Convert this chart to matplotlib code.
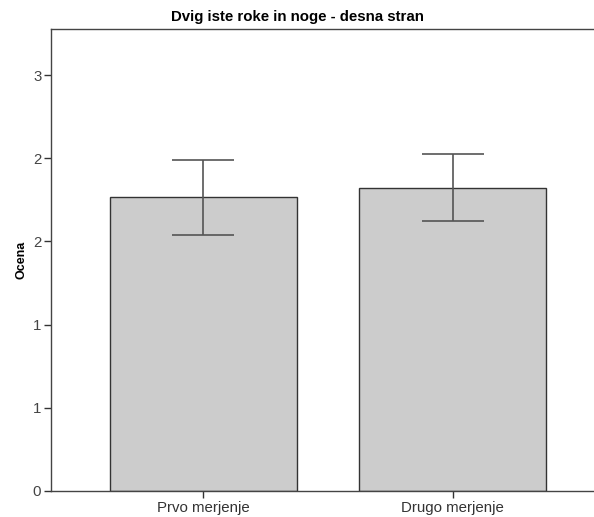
import matplotlib.pyplot as plt

plt.rcParams['font.family'] = ['Liberation Sans', 'DejaVu Sans']

categories = ['Prvo merjenje', 'Drugo merjenje']
means = [1.765, 1.823]
ci_low = [1.540, 1.623]
ci_high = [1.989, 2.025]
y_ticks = [0, 0.5, 1.0, 1.5, 2.0, 2.5]
y_tick_labels = ['0', '1', '1', '2', '2', '3']

fig = plt.figure(figsize=(5.94, 5.17), dpi=100)
ax = fig.add_axes([0.0859, 0.0503, 0.9141, 0.893])

x = list(range(len(categories)))
err = [[m - lo for m, lo in zip(means, ci_low)],
       [hi - m for m, hi in zip(means, ci_high)]]

ax.bar(x, means, width=0.75, color='#cccccc', edgecolor='#333333', linewidth=1.0, zorder=2)
ax.errorbar(x, means, yerr=err, fmt='none', ecolor='#555555', elinewidth=1.2,
            capsize=22.3, capthick=1.2, zorder=3)

ax.set_xlim(-0.612, 1.568)
ax.set_ylim(0, 2.775)
ax.set_xticks(x)
ax.set_xticklabels(categories, fontsize=10.8, color='#333333')
ax.set_yticks(y_ticks)
ax.set_yticklabels(y_tick_labels, fontsize=10.8, color='#444444')
ax.tick_params(axis='both', length=5, width=1, color='#333333', pad=2)

ax.spines['right'].set_visible(False)
for s in ['left', 'top', 'bottom']:
    ax.spines[s].set_color('#444444')
    ax.spines[s].set_linewidth(1.0)

ax.set_ylabel('Ocena', fontsize=9, fontweight='bold', labelpad=4)
# title is centred on the whole figure, not on the axes
fig.text(0.5, 0.967, 'Dvig iste roke in noge - desna stran', fontsize=10.8,
         fontweight='bold', ha='center', va='center')

fig.savefig('out.png', dpi=100)
